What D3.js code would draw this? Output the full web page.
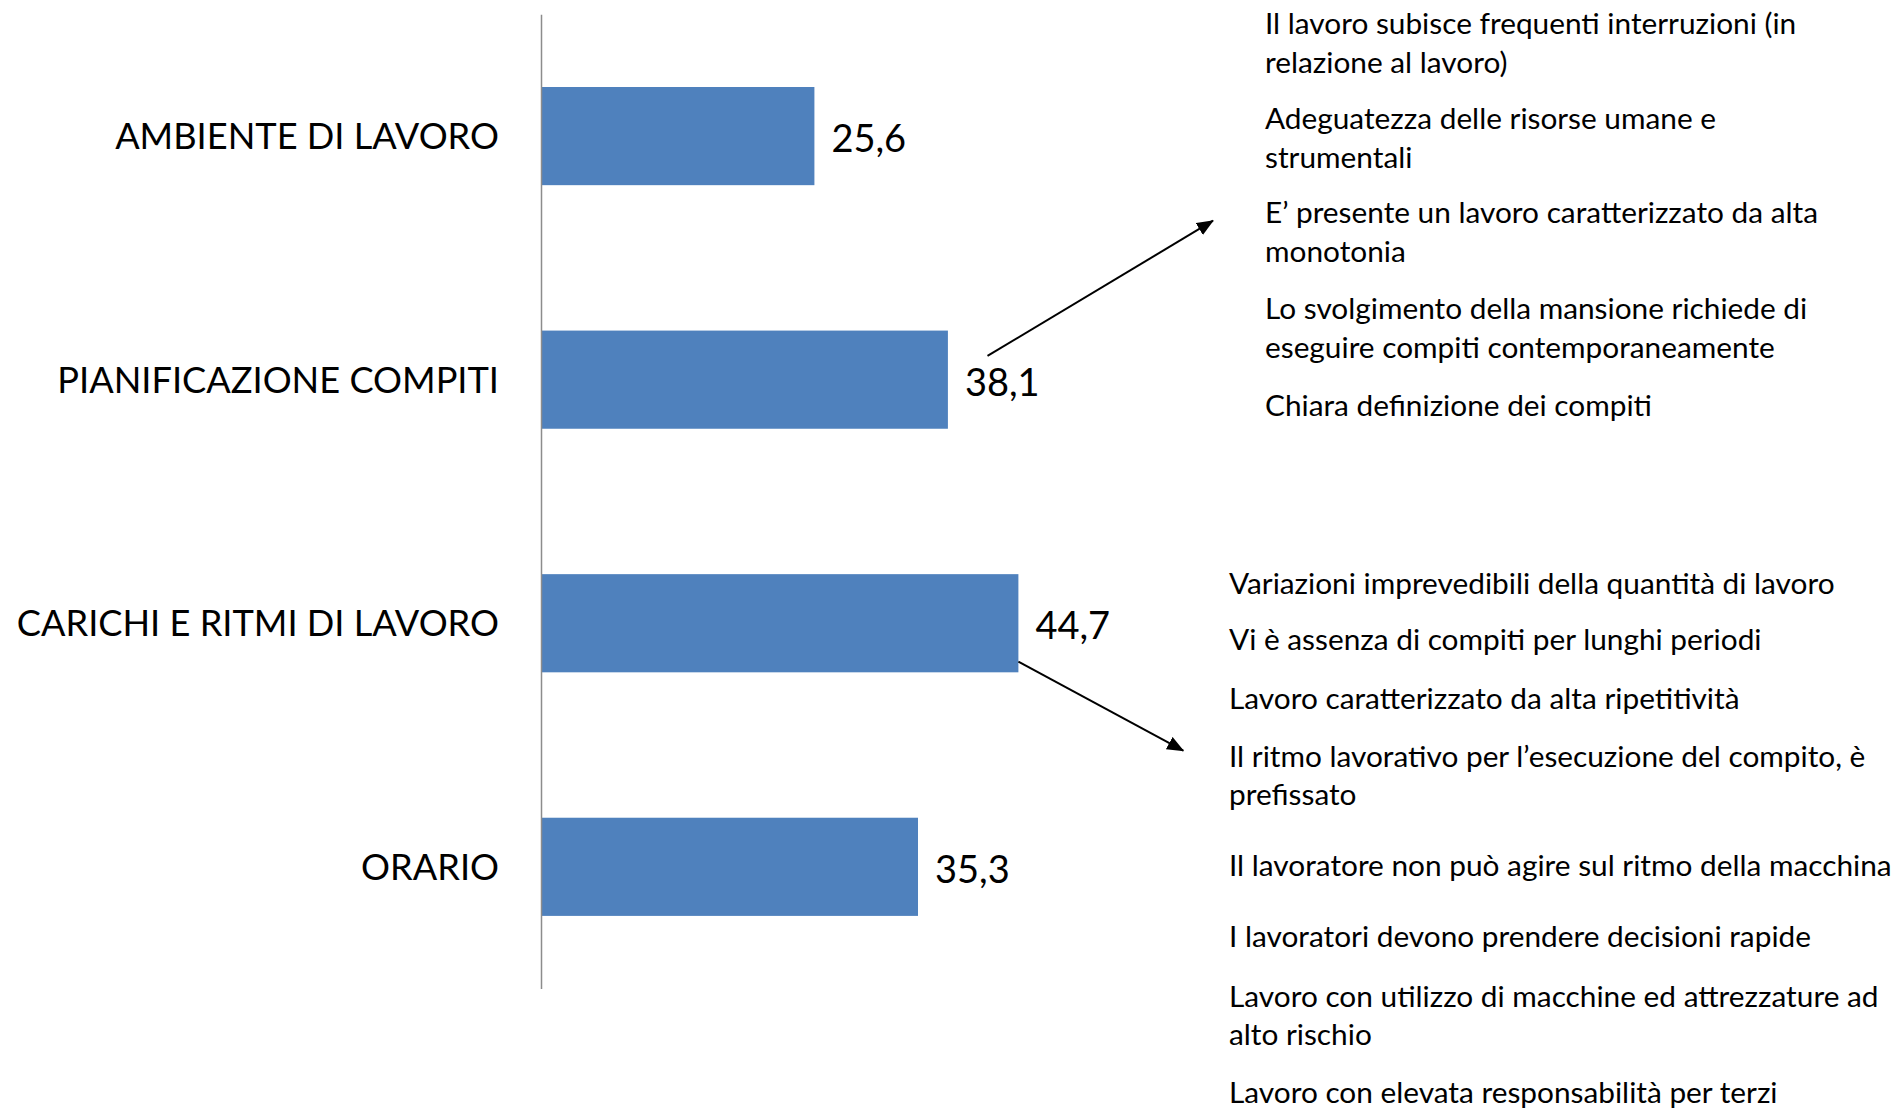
<!DOCTYPE html>
<html>
<head>
<meta charset="utf-8">
<script src="https://cdn.jsdelivr.net/npm/d3@7"></script>
<style>
  html, body { margin: 0; padding: 0; background: #ffffff; }
  svg { display: block; }
</style>
</head>
<body>
<svg id="chart" width="1903" height="1108"></svg>
<script>
// ---------- DATA ----------
const categories = [
  "AMBIENTE DI LAVORO",
  "PIANIFICAZIONE COMPITI",
  "CARICHI E RITMI DI LAVORO",
  "ORARIO"
];
const values = [25.6, 38.1, 44.7, 35.3];

// Notes attached to "PIANIFICAZIONE COMPITI" (each item = its wrapped lines)
const notesPianificazione = [
  ["Il lavoro subisce frequenti interruzioni (in", "relazione al lavoro)"],
  ["Adeguatezza delle risorse umane e", "strumentali"],
  ["E\u2019 presente un lavoro caratterizzato da alta", "monotonia"],
  ["Lo svolgimento della mansione richiede di", "eseguire compiti contemporaneamente"],
  ["Chiara definizione dei compiti"]
];
// Notes attached to "CARICHI E RITMI DI LAVORO"
const notesCarichi = [
  ["Variazioni imprevedibili della quantit\u00e0 di lavoro"],
  ["Vi \u00e8 assenza di compiti per lunghi periodi"],
  ["Lavoro caratterizzato da alta ripetitivit\u00e0"],
  ["Il ritmo lavorativo per l\u2019esecuzione del compito, \u00e8", "prefissato"],
  ["Il lavoratore non pu\u00f2 agire sul ritmo della macchina"],
  ["I lavoratori devono prendere decisioni rapide"],
  ["Lavoro con utilizzo di macchine ed attrezzature ad", "alto rischio"],
  ["Lavoro con elevata responsabilit\u00e0 per terzi"]
];

// ---------- LAYOUT ----------
const FONT = "Lato, 'Open Sans', sans-serif";
const axisX = 541;
const pxPerUnit = 10.68;
const plotTop = 14.3, plotBottom = 988.6;
const barColor = "#4F81BD";

const noteLayoutTop = { x: 1265, baselines: [34, 129, 223, 319, 416], lineH: 38.5 };
const noteLayoutBottom = { x: 1229, baselines: [594, 650, 708.5, 767, 875.5, 947, 1007, 1103], lineH: 38.3 };

const svg = d3.select("#chart");

const x = d3.scaleLinear().domain([0, 50]).range([axisX, axisX + 50 * pxPerUnit]);
const y = d3.scaleBand()
  .domain(categories)
  .range([plotTop, plotBottom])
  .paddingInner(0.597)
  .paddingOuter(0.2985);

const fmt = d3.formatLocale({ decimal: ",", thousands: ".", grouping: [3], currency: ["\u20ac", ""] }).format(".1f");

// bars
svg.append("g")
  .selectAll("rect")
  .data(values)
  .join("rect")
  .attr("x", x(0))
  .attr("y", (d, i) => y(categories[i]))
  .attr("width", d => x(d) - x(0))
  .attr("height", y.bandwidth())
  .attr("fill", barColor);

// category axis
const axis = svg.append("g")
  .attr("transform", `translate(${axisX},0)`)
  .call(d3.axisLeft(y).tickSize(0).tickSizeOuter(0).tickPadding(42));
axis.select(".domain").attr("stroke", "#8c8c8c").attr("stroke-width", 1.5);
axis.selectAll(".tick text")
  .attr("font-family", FONT)
  .attr("font-size", 36.2)
  .attr("fill", "#000")
  .attr("dy", "0.36em");

// value labels
svg.append("g")
  .selectAll("text")
  .data(values)
  .join("text")
  .attr("x", d => x(d) + 17)
  .attr("y", (d, i) => y(categories[i]) + y.bandwidth() / 2)
  .attr("dy", "0.42em")
  .attr("font-family", FONT)
  .attr("font-size", 38)
  .attr("fill", "#000")
  .text(d => fmt(d));

// notes
function drawNotes(items, layout) {
  const g = svg.append("g")
    .attr("font-family", FONT)
    .attr("font-size", 29.8)
    .attr("fill", "#000");
  items.forEach((lines, i) => {
    const t = g.append("text").attr("x", layout.x).attr("y", layout.baselines[i]);
    lines.forEach((ln, j) => {
      t.append("tspan").attr("x", layout.x).attr("y", layout.baselines[i] + j * layout.lineH).text(ln);
    });
  });
}
drawNotes(notesPianificazione, noteLayoutTop);
drawNotes(notesCarichi, noteLayoutBottom);

// arrows
const defs = svg.append("defs");
defs.append("marker")
  .attr("id", "arrowHead")
  .attr("markerUnits", "userSpaceOnUse")
  .attr("markerWidth", 17)
  .attr("markerHeight", 14)
  .attr("refX", 16)
  .attr("refY", 7)
  .attr("orient", "auto")
  .append("path")
  .attr("d", "M0,0 L17,7 L0,14 Z")
  .attr("fill", "#000");

const bw = y.bandwidth();
const arrows = [
  { x1: x(values[1]) + 39.6, y1: y(categories[1]) + bw / 2 - 23.7, x2: 1213, y2: 220.7 },
  { x1: x(values[2]), y1: y(categories[2]) + bw - 10.8, x2: 1183.3, y2: 750.7 }
];
svg.append("g")
  .selectAll("line")
  .data(arrows)
  .join("line")
  .attr("x1", d => d.x1).attr("y1", d => d.y1)
  .attr("x2", d => d.x2).attr("y2", d => d.y2)
  .attr("stroke", "#000")
  .attr("stroke-width", 2)
  .attr("marker-end", "url(#arrowHead)");
</script>
</body>
</html>
